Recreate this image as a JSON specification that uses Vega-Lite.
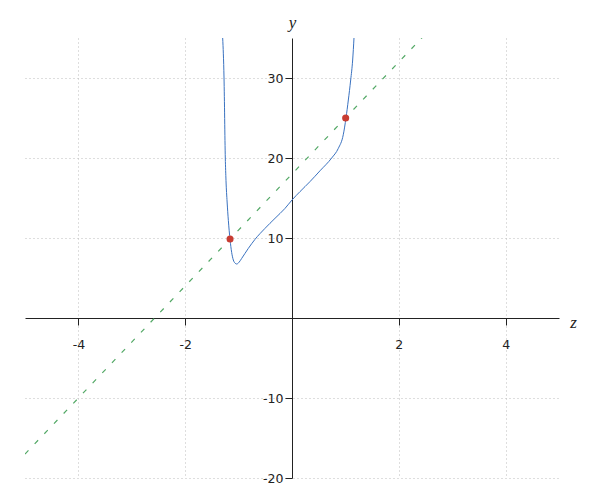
{
  "$schema": "https://vega.github.io/schema/vega-lite/v6.json",
  "autosize": {"type": "none"},
  "width": 534,
  "height": 440,
  "padding": {"left": 25, "top": 38, "right": 41, "bottom": 22},
  "background": "white",
  "config": {"view": {"stroke": null}},
  "datasets": {
    "curve": [
      {"z": -1.298, "y": 35},
      {"z": -1.273, "y": 30},
      {"z": -1.249, "y": 20},
      {"z": -1.236, "y": 17.2},
      {"z": -1.215, "y": 14.5},
      {"z": -1.192, "y": 12.2},
      {"z": -1.16, "y": 9.8},
      {"z": -1.13, "y": 8.2},
      {"z": -1.099, "y": 7.25},
      {"z": -1.065, "y": 6.85},
      {"z": -1.036, "y": 6.75},
      {"z": -0.99, "y": 6.98},
      {"z": -0.942, "y": 7.45},
      {"z": -0.818, "y": 8.7},
      {"z": -0.693, "y": 9.83},
      {"z": -0.506, "y": 11.2},
      {"z": -0.318, "y": 12.46},
      {"z": -0.131, "y": 13.7},
      {"z": 0, "y": 14.75},
      {"z": 0.15, "y": 15.8},
      {"z": 0.337, "y": 17.05},
      {"z": 0.524, "y": 18.4},
      {"z": 0.743, "y": 20.0},
      {"z": 0.867, "y": 21.2},
      {"z": 0.96, "y": 22.9},
      {"z": 1.011, "y": 25.0},
      {"z": 1.055, "y": 27.25},
      {"z": 1.099, "y": 29.75},
      {"z": 1.136, "y": 32.25},
      {"z": 1.161, "y": 35}
    ],
    "line": [
      {"z": -5, "y": -17},
      {"z": 2.5, "y": 35.5}
    ],
    "pts": [
      {"z": -1.16, "y": 9.88},
      {"z": 1.005, "y": 25}
    ]
  },
  "layer": [
    {
      "data": {"name": "line"},
      "mark": {"type": "line", "color": "#52a865", "strokeWidth": 1.2, "strokeDash": [5, 9], "clip": true},
      "encoding": {
        "x": {"field": "z", "type": "quantitative", "scale": {"domain": [-5, 5], "nice": false, "zero": false},
          "axis": {"values": [-4, -2, 2, 4], "offset": {"expr": "scale('y', 0) - height"}, "grid": true,
            "gridDash": [1, 3], "gridColor": "#bdbdbd", "domainColor": "#222222", "tickColor": "#222222",
            "tickSize": 7, "labelPadding": 13, "labelFont": "DejaVu Sans", "labelFontSize": 12.5, "labelColor": "#222222",
            "labelExpr": "replace(datum.label, '−', '-')",
            "title": "z", "titleFont": "Liberation Serif", "titleFontStyle": "italic", "titleFontWeight": "normal",
            "titleFontSize": 17, "titleColor": "#222222", "titleX": 548, "titleY": 4, "titleBaseline": "middle", "titleAlign": "center"}},
        "y": {"field": "y", "type": "quantitative", "scale": {"domain": [-20, 35], "nice": false, "zero": false},
          "axis": {"values": [-20, -10, 10, 20, 30], "offset": {"expr": "-scale('x', 0)"}, "grid": true,
            "gridDash": [1, 3], "gridColor": "#bdbdbd", "domainColor": "#222222", "tickColor": "#222222",
            "tickSize": 7, "labelPadding": 2, "labelFont": "DejaVu Sans", "labelFontSize": 12.5, "labelColor": "#222222",
            "labelExpr": "replace(datum.label, '−', '-')",
            "title": "y", "titleFont": "Liberation Serif", "titleFontStyle": "italic", "titleFontWeight": "normal",
            "titleFontSize": 17, "titleColor": "#222222", "titleAngle": 0, "titleX": 0, "titleY": -16, "titleBaseline": "middle", "titleAlign": "center"}}
      }
    },
    {
      "data": {"name": "curve"},
      "mark": {"type": "line", "color": "#3a72c0", "strokeWidth": 1, "interpolate": "monotone", "clip": true},
      "encoding": {
        "x": {"field": "z", "type": "quantitative"},
        "y": {"field": "y", "type": "quantitative"}
      }
    },
    {
      "data": {"name": "pts"},
      "mark": {"type": "circle", "color": "#c83c32", "opacity": 1, "size": 50},
      "encoding": {
        "x": {"field": "z", "type": "quantitative"},
        "y": {"field": "y", "type": "quantitative"}
      }
    }
  ]
}
